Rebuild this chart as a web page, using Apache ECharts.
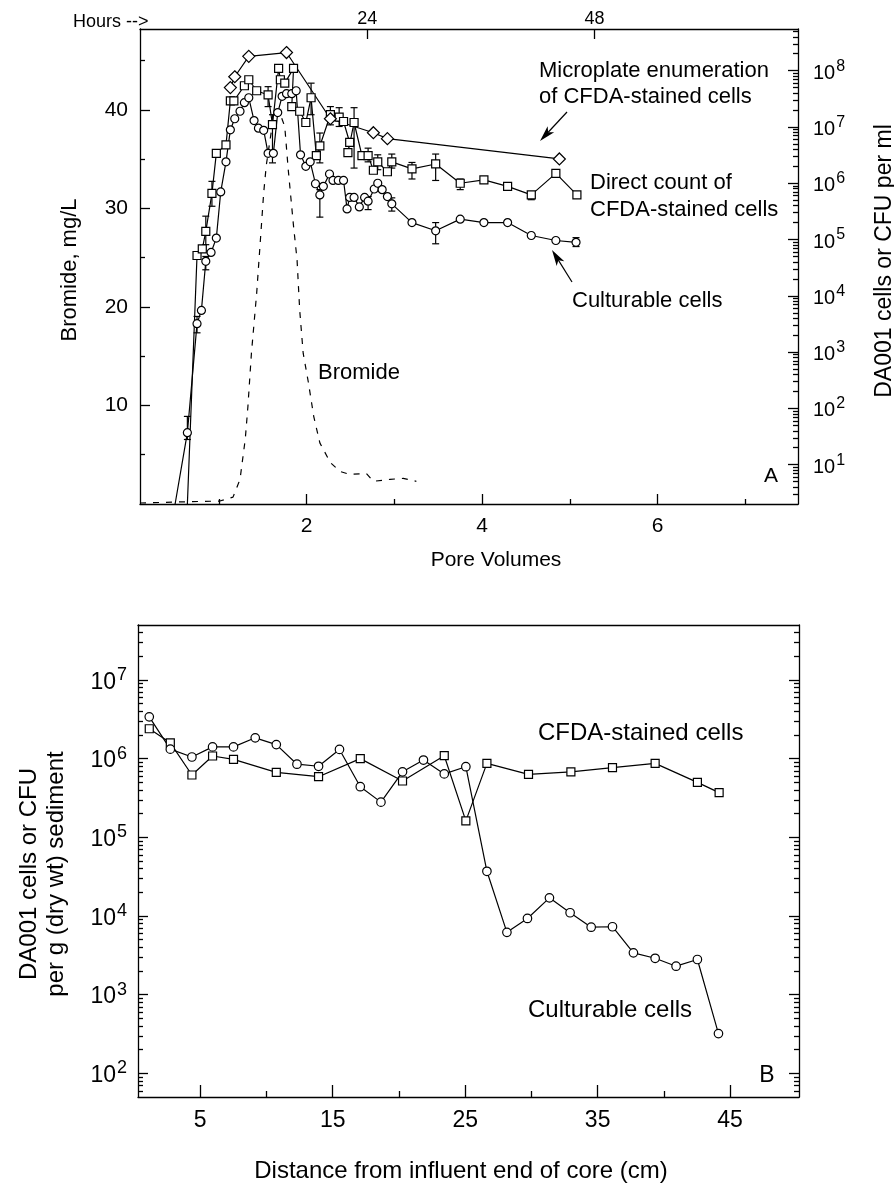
<!DOCTYPE html>
<html>
<head>
<meta charset="utf-8">
<title>DA001 breakthrough and retention</title>
<script src="https://cdn.jsdelivr.net/npm/echarts@6/dist/echarts.min.js"></script>
<style>
html,body{margin:0;padding:0;background:#fff;}
#main{width:894px;height:1184px;}
</style>
</head>
<body>
<div id="main"></div>
<script>
// ---- panel A : pore volumes ----
var bromPV  = [0.10, 0.50, 1.01, 1.16, 1.24, 1.30, 1.33, 1.37, 1.43, 1.47, 1.51, 1.54, 1.60, 1.68, 1.75, 1.79, 1.85, 1.89, 1.92, 1.96, 2.02, 2.08, 2.15, 2.27, 2.38, 2.49, 2.68, 2.76, 2.95, 3.10, 3.25];
var bromMgL = [0.1, 0.2, 0.3, 0.7, 2.5, 6.6, 9.9, 15.3, 21.4, 26.5, 31.6, 34.4, 38.0, 40.0, 38.3, 33.9, 28.2, 24.8, 19.7, 15.3, 12.3, 8.9, 6.2, 4.2, 3.3, 3.0, 3.1, 2.3, 2.5, 2.6, 2.3];

var microPV    = [1.13, 1.18, 1.34, 1.77, 2.27, 2.76, 2.92, 4.88];
var microCells = [5.0e7, 7.8e7, 1.8e8, 2.1e8, 1.4e7, 7.9e6, 6.2e6, 2.7e6];

var directPV    = [0.64, 0.75, 0.81, 0.85, 0.92, 0.97, 1.08, 1.13, 1.17, 1.29, 1.34, 1.43, 1.56, 1.61, 1.68, 1.70, 1.75, 1.85, 1.83, 1.92, 1.99, 2.05, 2.11, 2.15, 2.27, 2.37, 2.42, 2.49, 2.47, 2.54, 2.63, 2.70, 2.76, 2.81, 2.92, 2.97, 3.20, 3.47, 3.75, 4.02, 4.29, 4.56, 4.84, 5.08];
var directCells = [2, 5.2e4, 6.8e4, 1.4e5, 6.6e5, 3.4e6, 4.8e6, 2.9e7, 2.9e7, 5.4e7, 6.9e7, 4.4e7, 3.7e7, 1.1e7, 1.1e8, 6.9e7, 6.0e7, 1.1e8, 2.3e7, 1.9e7, 1.2e7, 3.3e7, 3.1e6, 4.6e6, 1.65e7, 1.5e7, 1.25e7, 5.3e6, 3.5e6, 1.2e7, 3.1e6, 3.1e6, 1.7e6, 2.4e6, 1.6e6, 2.4e6, 1.8e6, 2.2e6, 1.0e6, 1.15e6, 8.8e5, 6.2e5, 1.5e6, 6.2e5];

var cultPV    = [0.50, 0.64, 0.75, 0.80, 0.85, 0.91, 0.97, 1.02, 1.08, 1.13, 1.18, 1.24, 1.29, 1.34, 1.40, 1.45, 1.51, 1.56, 1.62, 1.67, 1.72, 1.77, 1.83, 1.88, 1.93, 1.99, 2.04, 2.10, 2.15, 2.19, 2.26, 2.30, 2.36, 2.42, 2.46, 2.49, 2.54, 2.60, 2.66, 2.70, 2.77, 2.81, 2.86, 2.92, 2.97, 3.20, 3.47, 3.75, 4.02, 4.29, 4.56, 4.84, 5.07];
var cultCells = [2, 37, 3.2e3, 5.5e3, 4.1e4, 5.9e4, 1.06e5, 7.0e5, 2.4e6, 8.9e6, 1.4e7, 1.9e7, 2.7e7, 3.3e7, 1.3e7, 9.5e6, 8.7e6, 3.4e6, 3.4e6, 1.8e7, 3.5e7, 3.9e7, 3.9e7, 4.4e7, 3.2e6, 2.0e6, 2.4e6, 9.8e5, 6.2e5, 8.8e5, 1.46e6, 1.12e6, 1.12e6, 1.12e6, 3.5e5, 5.6e5, 5.6e5, 3.8e5, 5.6e5, 4.8e5, 7.9e5, 1.0e6, 7.7e5, 5.8e5, 4.3e5, 2.0e5, 1.43e5, 2.3e5, 2.0e5, 2.0e5, 1.18e5, 9.6e4, 8.9e4];

// error bars (pore volume, low, high)
var errPV   = [0.64, 0.75, 0.85, 0.85, 0.92, 1.56, 1.61, 2.05, 2.15, 2.15, 2.27, 2.37, 2.54, 2.70, 2.70, 2.81, 2.97, 2.97, 3.20, 3.47, 3.47, 3.75, 4.56, 5.07];
var errLow  = [28, 2.2e3, 2.9e4, 8.1e4, 3.9e5, 2.3e7, 2.3e6, 1.65e7, 2.3e6, 2.5e5, 1.09e7, 1.02e7, 1.86e6, 2.4e6, 3.4e5, 1.74e6, 1.86e6, 3.2e5, 1.19e6, 1.12e6, 8.4e4, 7.7e5, 5.1e5, 7.5e4];
var errHigh = [72, 4.3e3, 5.0e4, 2.6e5, 1.08e6, 5.2e7, 1.65e7, 6.0e7, 7.8e6, 7.7e5, 2.3e7, 2.2e7, 2.2e7, 4.2e6, 5.8e5, 3.2e6, 3.3e6, 5.5e5, 2.34e6, 3.3e6, 2.0e5, 1.19e6, 7.1e5, 1.08e5];

var pvTicks = [2, 4, 6];
var pvMinor = [1, 3, 5, 7];
var hourTicks = [24, 48];
var bromTicks = [10, 20, 30, 40];
var bromMinor = [5, 15, 25, 35, 45];
var decA = [10, 100, 1e3, 1e4, 1e5, 1e6, 1e7, 1e8];

// ---- panel B : distance along core ----
var distCirc = [1.15, 2.74, 4.37, 5.93, 7.51, 9.15, 10.74, 12.30, 13.93, 15.51, 17.08, 18.64, 20.27, 21.85, 23.42, 25.05, 26.64, 28.15, 29.70, 31.36, 32.92, 34.51, 36.12, 37.70, 39.34, 40.92, 42.53, 44.12];
var cultB    = [3.4e6, 1.32e6, 1.05e6, 1.41e6, 1.41e6, 1.84e6, 1.51e6, 8.5e5, 8.0e5, 1.31e6, 4.4e5, 2.8e5, 6.8e5, 9.6e5, 6.4e5, 7.9e5, 3.7e4, 6.2e3, 9.3e3, 1.7e4, 1.1e4, 7.2e3, 7.3e3, 3.4e3, 2.9e3, 2.3e3, 2.8e3, 320];
var distSq = [1.15, 2.74, 4.37, 5.93, 7.51, 10.74, 13.93, 17.08, 20.27, 23.42, 25.05, 26.64, 29.78, 32.98, 36.12, 39.34, 42.53, 44.17];
var cfdaB  = [2.4e6, 1.59e6, 6.2e5, 1.08e6, 9.8e5, 6.7e5, 5.9e5, 1.0e6, 5.2e5, 1.09e6, 1.62e5, 8.7e5, 6.3e5, 6.8e5, 7.7e5, 8.7e5, 5.0e5, 3.7e5];

var distTicks = [5, 15, 25, 35, 45];
var distMinor = [10, 20, 30, 40];
var decB = [100, 1e3, 1e4, 1e5, 1e6, 1e7];

var FONT = '"Liberation Sans", Arial, Helvetica, sans-serif';
var LW = 1.3;

function pairs(xs, ys, floor) {
  return xs.map(function (x, i) {
    if (floor && ys[i] <= floor) return { value: [x, ys[i]], symbol: 'none' };
    return [x, ys[i]];
  });
}
function logMinor(lo, hi) {
  var out = [];
  for (var p = Math.floor(Math.log10(lo)); p <= Math.ceil(Math.log10(hi)); p++) {
    for (var k = 2; k <= 9; k++) {
      var v = k * Math.pow(10, p);
      if (v > lo && v < hi) out.push(v);
    }
  }
  return out;
}
function powLabel(v) {
  return '{b|10}{e|' + Math.round(Math.log10(v)) + '}';
}

function ax(o) {
  var a = {
    type: 'value',
    axisLine: { show: true, onZero: false, lineStyle: { color: '#000', width: LW } },
    splitLine: { show: false },
    axisTick: { show: false },
    axisLabel: { show: false }
  };
  for (var k in o) a[k] = o[k];
  return a;
}
function ticks(vals, len) {
  return { show: true, inside: true, length: len, customValues: vals, lineStyle: { color: '#000', width: LW } };
}
function labels(vals, size, margin, extra) {
  var l = { show: true, customValues: vals, color: '#000', fontFamily: FONT, fontSize: size, margin: margin };
  if (extra) for (var k in extra) l[k] = extra[k];
  return l;
}

var richA = {
  b: { fontSize: 20, fontFamily: FONT, color: '#000', verticalAlign: 'bottom' },
  e: { fontSize: 16, fontFamily: FONT, color: '#000', verticalAlign: 'bottom', padding: [0, 0, 9, 1] }
};
var richB = {
  b: { fontSize: 23, fontFamily: FONT, color: '#000', verticalAlign: 'bottom' },
  e: { fontSize: 18, fontFamily: FONT, color: '#000', verticalAlign: 'bottom', padding: [0, 0, 10, 1] }
};

var mk = { color: '#fff', borderColor: '#000', borderWidth: 1.2 };
var ln = { color: '#000', width: 1.2 };

function errItem(params, api) {
  var x = api.value(0);
  var lo = api.coord([x, api.value(1)]);
  var hi = api.coord([x, api.value(2)]);
  var c = 3.5, st = { stroke: '#000', lineWidth: 1.2 };
  return {
    type: 'group',
    children: [
      { type: 'line', shape: { x1: lo[0], y1: lo[1], x2: hi[0], y2: hi[1] }, style: st },
      { type: 'line', shape: { x1: lo[0] - c, y1: lo[1], x2: lo[0] + c, y2: lo[1] }, style: st },
      { type: 'line', shape: { x1: hi[0] - c, y1: hi[1], x2: hi[0] + c, y2: hi[1] }, style: st }
    ]
  };
}

function txt(s, x, y, size, align, rot) {
  return {
    type: 'text', x: x, y: y, rotation: rot || 0, silent: true,
    style: {
      text: s, fill: '#000', font: size + 'px ' + FONT,
      textAlign: align || 'left', align: align || 'left',
      textVerticalAlign: 'middle', verticalAlign: 'middle'
    }
  };
}
function arrow(x1, y1, x2, y2) {
  var dx = x2 - x1, dy = y2 - y1, L = Math.sqrt(dx * dx + dy * dy);
  var ux = dx / L, uy = dy / L, h = 16, w = 4.5;
  var bx = x2 - ux * h, by = y2 - uy * h;
  return [
    { type: 'line', silent: true, shape: { x1: x1, y1: y1, x2: bx + ux * 4, y2: by + uy * 4 }, style: { stroke: '#000', lineWidth: 1.2 } },
    { type: 'polygon', silent: true, shape: { points: [[x2, y2], [bx - uy * w, by + ux * w], [bx + ux * 4, by + uy * 4], [bx + uy * w, by - ux * w]] }, style: { fill: '#000' } }
  ];
}

var chart = echarts.init(document.getElementById('main'), null, { renderer: 'canvas' });

var option = {
  animation: false,
  backgroundColor: '#fff',
  grid: [
    { left: 140, top: 29, width: 658, height: 475 },
    { left: 138, top: 625, width: 661, height: 472 }
  ],
  xAxis: [
    ax({ gridIndex: 0, position: 'bottom', min: 0.1, max: 7.6, axisTick: ticks(pvTicks, 10), axisLabel: labels(pvTicks, 21, 12) }),
    ax({ gridIndex: 0, position: 'bottom', min: 0.1, max: 7.6, axisLine: { show: false }, axisTick: ticks(pvMinor, 5) }),
    ax({ gridIndex: 0, position: 'top', min: 0, max: 69.5, axisTick: ticks(hourTicks, 10), axisLabel: labels(hourTicks, 18, 1) }),
    ax({ gridIndex: 1, position: 'bottom', min: 0.3, max: 50.2, axisTick: ticks(distTicks, 12), axisLabel: labels(distTicks, 23, 12) }),
    ax({ gridIndex: 1, position: 'bottom', min: 0.3, max: 50.2, axisLine: { show: false }, axisTick: ticks(distMinor, 6) }),
    ax({ gridIndex: 1, position: 'top', min: 0.3, max: 50.2 })
  ],
  yAxis: [
    ax({ gridIndex: 0, position: 'left', min: 0, max: 48.2, axisTick: ticks(bromTicks, 10), axisLabel: labels(bromTicks, 21, 12) }),
    ax({ gridIndex: 0, position: 'left', min: 0, max: 48.2, axisLine: { show: false }, axisTick: ticks(bromMinor, 5) }),
    ax({ gridIndex: 0, type: 'log', logBase: 10, position: 'right', min: 2, max: 5.5e8,
         axisTick: ticks(decA, 10), axisLabel: labels(decA, 20, 15, { formatter: powLabel, rich: richA }) }),
    ax({ gridIndex: 0, type: 'log', logBase: 10, position: 'right', min: 2, max: 5.5e8, axisLine: { show: false }, axisTick: ticks(logMinor(2, 5.5e8), 5) }),
    ax({ gridIndex: 1, type: 'log', logBase: 10, position: 'left', min: 50, max: 5e7,
         axisTick: ticks(decB, 10), axisLabel: labels(decB, 23, 11, { formatter: powLabel, rich: richB }) }),
    ax({ gridIndex: 1, type: 'log', logBase: 10, position: 'left', min: 50, max: 5e7, axisLine: { show: false }, axisTick: ticks(logMinor(50, 5e7), 5) }),
    ax({ gridIndex: 1, type: 'log', logBase: 10, position: 'right', min: 50, max: 5e7, axisTick: ticks(decB, 10) }),
    ax({ gridIndex: 1, type: 'log', logBase: 10, position: 'right', min: 50, max: 5e7, axisLine: { show: false }, axisTick: ticks(logMinor(50, 5e7), 5) })
  ],
  series: [
    { name: 'Bromide', type: 'line', xAxisIndex: 0, yAxisIndex: 0, data: pairs(bromPV, bromMgL),
      symbol: 'none', lineStyle: { color: '#000', width: 1.2, type: [6, 7] } },
    { name: 'Error', type: 'custom', xAxisIndex: 0, yAxisIndex: 2, renderItem: errItem, encode: { x: 0, y: [1, 2] },
      data: errPV.map(function (x, i) { return [x, errLow[i], errHigh[i]]; }) },
    { name: 'Direct count', type: 'line', xAxisIndex: 0, yAxisIndex: 2, data: pairs(directPV, directCells, 2),
      symbol: 'rect', symbolSize: 8, itemStyle: mk, lineStyle: ln },
    { name: 'Culturable', type: 'line', xAxisIndex: 0, yAxisIndex: 2, data: pairs(cultPV, cultCells, 2),
      symbol: 'circle', symbolSize: 8, itemStyle: mk, lineStyle: ln },
    { name: 'Microplate', type: 'line', xAxisIndex: 0, yAxisIndex: 2, data: pairs(microPV, microCells),
      symbol: 'diamond', symbolSize: 12, itemStyle: mk, lineStyle: ln },
    { name: 'CFDA-stained (core)', type: 'line', xAxisIndex: 3, yAxisIndex: 4, data: pairs(distSq, cfdaB),
      symbol: 'rect', symbolSize: 8, itemStyle: mk, lineStyle: ln },
    { name: 'Culturable (core)', type: 'line', xAxisIndex: 3, yAxisIndex: 4, data: pairs(distCirc, cultB),
      symbol: 'circle', symbolSize: 8.5, itemStyle: mk, lineStyle: ln }
  ],
  graphic: [
    txt('Hours -->', 73, 22, 18),
    txt('Bromide, mg/L', 70, 270, 22, 'center', Math.PI / 2),
    txt('DA001 cells or CFU per ml', 885, 261, 23, 'center', Math.PI / 2),
    txt('Pore Volumes', 496, 560, 21, 'center'),
    txt('Microplate enumeration', 539, 71, 22),
    txt('of CFDA-stained cells', 539, 97, 22),
    txt('Direct count of', 590, 183, 22),
    txt('CFDA-stained cells', 590, 210, 22),
    txt('Culturable cells', 572, 301, 22),
    txt('Bromide', 318, 373, 22),
    txt('A', 771, 476, 21, 'center'),
    txt('DA001 cells or CFU', 29, 874, 24, 'center', Math.PI / 2),
    txt('per g (dry wt) sediment', 56, 874, 24, 'center', Math.PI / 2),
    txt('CFDA-stained cells', 538, 733, 24),
    txt('Culturable cells', 528, 1010, 24),
    txt('B', 767, 1076, 23, 'center'),
    txt('Distance from influent end of core (cm)', 461, 1171, 24, 'center')
  ].concat(arrow(567, 112, 540, 141)).concat(arrow(572, 282, 552, 250))
};

chart.setOption(option);
</script>
</body>
</html>
